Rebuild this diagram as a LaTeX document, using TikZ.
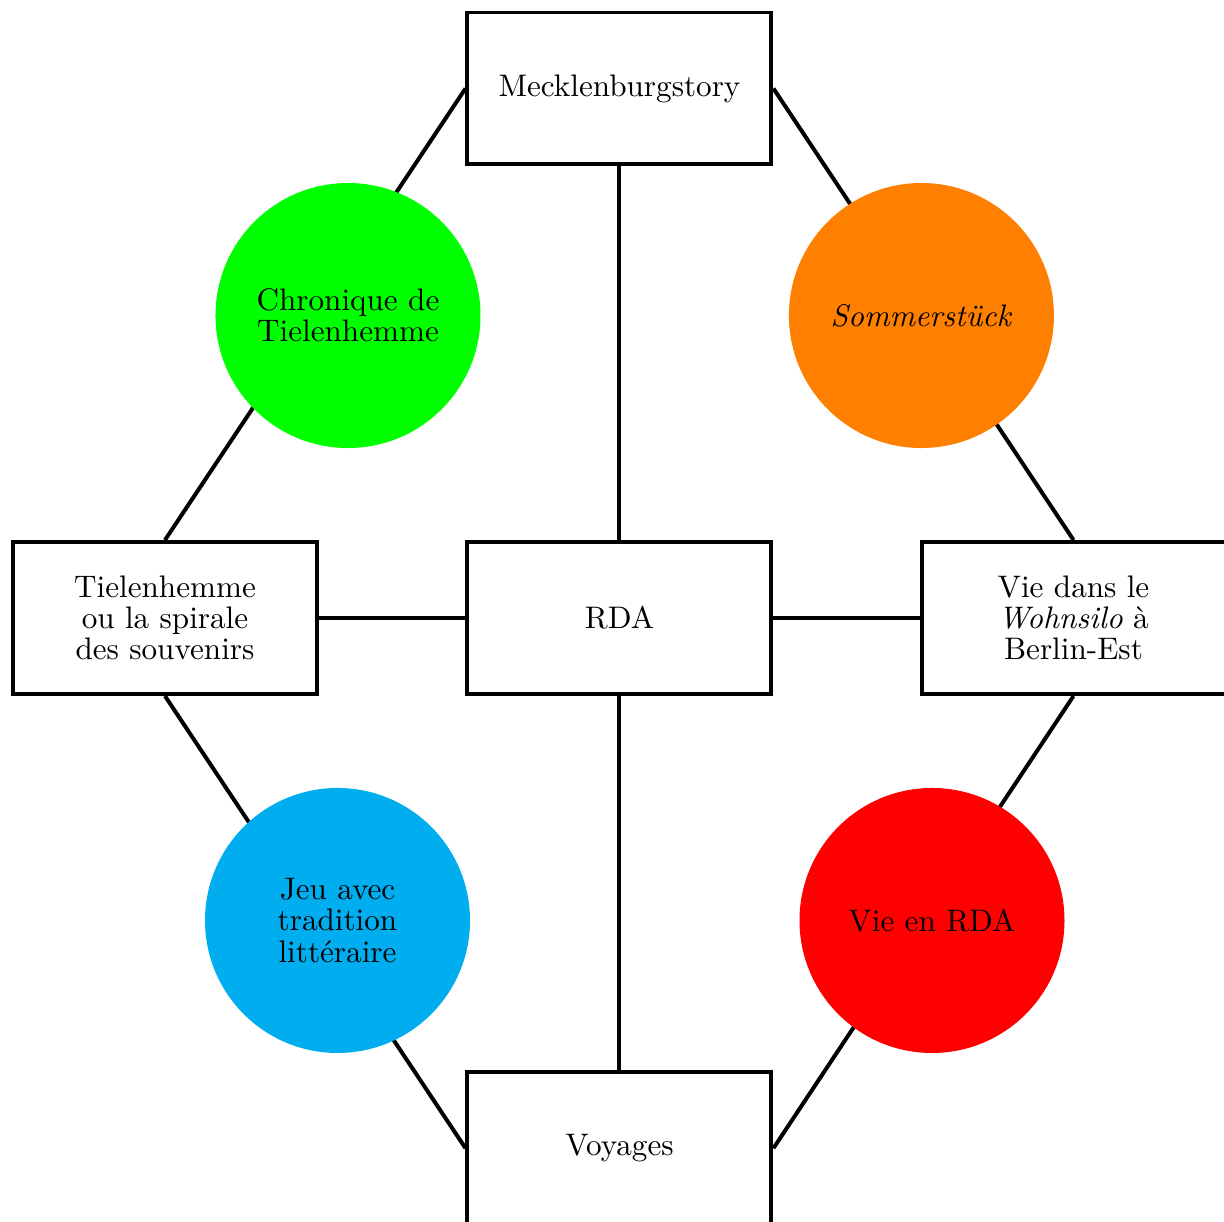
\documentclass[tikz,border=0pt]{standalone}
\begin{document}
\begin{tikzpicture}[
  box/.style={draw, line width=1.3pt, rectangle, minimum width=3.48cm, minimum height=1.74cm,
    inner sep=2pt, align=center, font={\fontsize{10.15}{10.15}\selectfont}},
  theme/.style={circle, minimum size=3.034cm, inner sep=0pt, align=center,
    font={\fontsize{10.15}{10.15}\selectfont}},
  link/.style={line width=1.3pt},
]
\definecolor{themegreen}{RGB}{0,255,0}
\definecolor{themeorange}{RGB}{255,128,0}
\definecolor{themeblue}{RGB}{0,174,239}
\definecolor{themered}{RGB}{255,0,0}

\useasboundingbox (0,0) rectangle (14.013,-13.990);

% central column and the two side boxes
\node[box] (meck) at (7.092,-1.013)  {Mecklenburgstory};
\node[box] (rda)  at (7.092,-7.075)  {RDA};
\node[box] (tiel) at (1.889,-7.075)  {Tielenhemme\\ou la spirale\\des souvenirs};
\node[box] (vie)  at (12.290,-7.075) {Vie dans le\\\textit{Wohnsilo} à\\Berlin-Est};
\node[box] (voy)  at (7.092,-13.145) {Voyages};

% connectors
\draw[link] (meck.south) -- (rda.north);
\draw[link] (rda.south) -- (voy.north);
\draw[link] (tiel.east) -- (rda.west);
\draw[link] (rda.east) -- (vie.west);
\draw[link] (meck.west) -- (tiel.north);
\draw[link] (meck.east) -- (vie.north);
\draw[link] (tiel.south) -- (voy.west);
\draw[link] (vie.south) -- (voy.east);

% theme discs laid over the diagonal links
\node[theme, fill=themegreen]  (chron) at (3.984,-3.612)  {Chronique de\\Tielenhemme};
\node[theme, fill=themeorange] (somm)  at (10.549,-3.612) {\textit{Sommerstück}};
\node[theme, fill=themeblue]   (jeu)   at (3.864,-10.538) {Jeu avec\\tradition\\littéraire};
\node[theme, fill=themered]    (vrda)  at (10.670,-10.538) {Vie en RDA};
\end{tikzpicture}
\end{document}
